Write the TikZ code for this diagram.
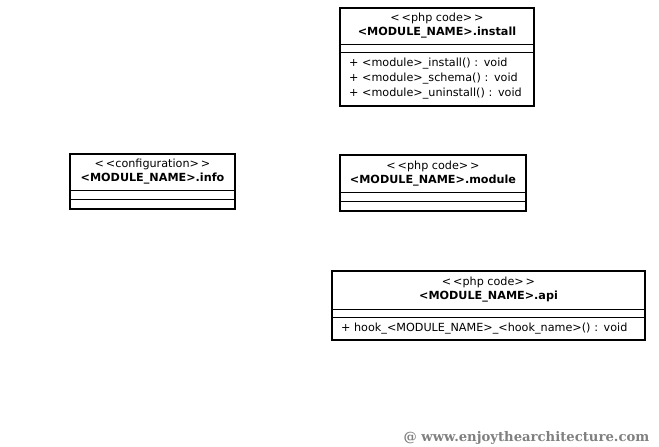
\documentclass[tikz,border=0pt]{standalone}
\usepackage{fontspec}
\setmainfont{DejaVu Sans}
\newfontfamily\markfont{DejaVu Serif}
\usetikzlibrary{positioning}
\begin{document}
\begin{tikzpicture}[x=1pt,y=-1pt,font=\fontsize{11.2}{14}\selectfont]
	\tikzstyle{part}=[draw=black,line width=1pt,inner sep=0pt,outer sep=0pt,anchor=north west]
	\tikzstyle{title}=[part,align=center]
	\tikzstyle{ops}=[part,align=left,inner xsep=9pt,font=\fontsize{11.2}{15}\selectfont]
	\tikzstyle{frame}=[draw=black,line width=2pt]
	
	\useasboundingbox (0,0) rectangle (659,447);
	
	\node[title,minimum width=194pt,minimum height=36pt] (install) at (340,8) {{<}\,{<}php code{>}\,{>}\\\textbf{<MODULE\_NAME>.install}};
	\node[part,minimum width=194pt,minimum height=8pt,below=0pt of install] (installattr) {};
	\node[ops,text width=176pt,minimum height=54pt,below=0pt of installattr] (installops) {+ <module>\_install() : void\\+ <module>\_schema() : void\\+ <module>\_uninstall() : void};
	\draw[frame] (install.north west) rectangle (installops.south east);
	
	\node[title,minimum width=165pt,minimum height=36pt] (info) at (70,154) {{<}\,{<}configuration{>}\,{>}\\\textbf{<MODULE\_NAME>.info}};
	\node[part,minimum width=165pt,minimum height=9pt,below=0pt of info] (infoattr) {};
	\node[part,minimum width=165pt,minimum height=10pt,below=0pt of infoattr] (infoops) {};
	\draw[frame] (info.north west) rectangle (infoops.south east);
	
	\node[title,minimum width=186pt,minimum height=37pt] (module) at (340,155) {{<}\,{<}php code{>}\,{>}\\\textbf{<MODULE\_NAME>.module}};
	\node[part,minimum width=186pt,minimum height=9pt,below=0pt of module] (moduleattr) {};
	\node[part,minimum width=186pt,minimum height=10pt,below=0pt of moduleattr] (moduleops) {};
	\draw[frame] (module.north west) rectangle (moduleops.south east);
	
	\node[title,minimum width=313pt,minimum height=38pt] (api) at (332,271) {{<}\,{<}php code{>}\,{>}\\\textbf{<MODULE\_NAME>.api}};
	\node[part,minimum width=313pt,minimum height=8pt,below=0pt of api] (apiattr) {};
	\node[ops,text width=295pt,minimum height=23pt,below=0pt of apiattr] (apiops) {+ hook\_<MODULE\_NAME>\_<hook\_name>() : void};
	\draw[frame] (api.north west) rectangle (apiops.south east);
	
	\node[text=gray,font=\markfont\fontsize{13.2}{15}\selectfont\bfseries] (mark) at (526.5,438) {@ www.enjoythearchitecture.com};
\end{tikzpicture}
\end{document}
